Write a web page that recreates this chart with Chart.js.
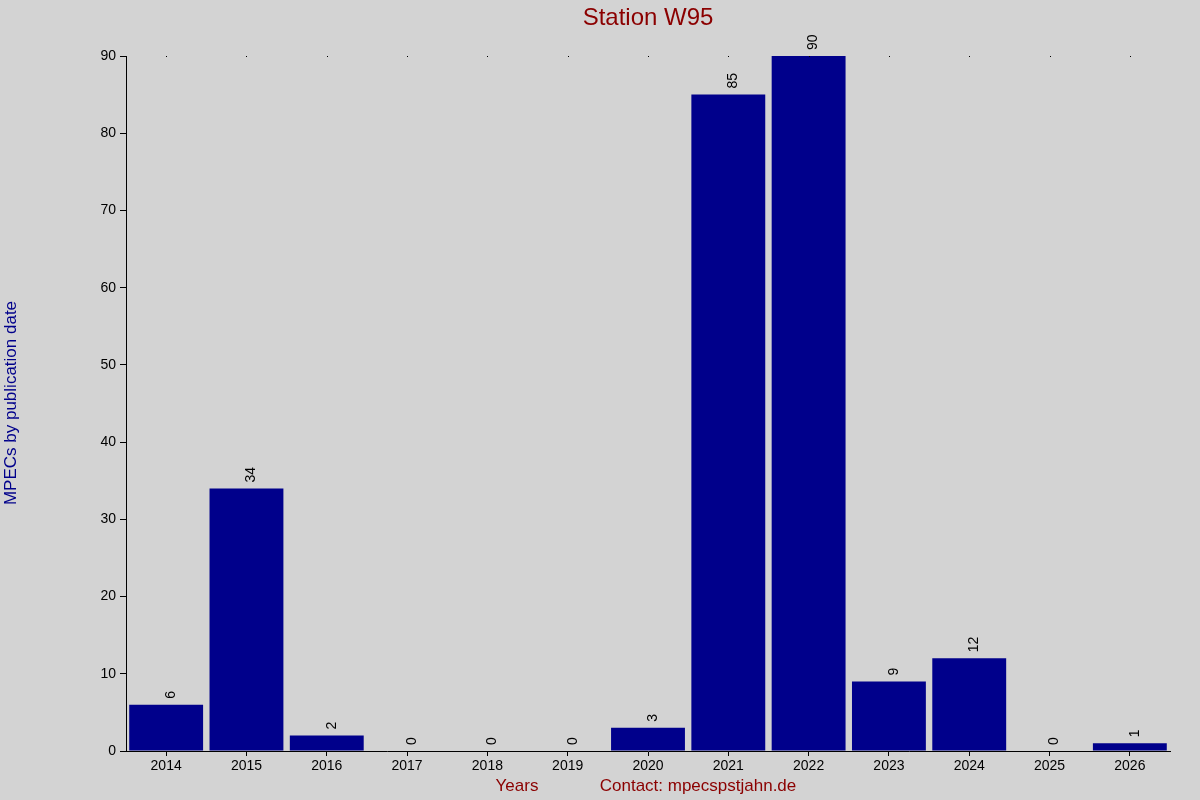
<!DOCTYPE html>
<html><head><script src="https://cdn.jsdelivr.net/npm/chart.js@4"></script>
<style>html,body{margin:0;background:#d3d3d3}</style></head>
<body><div style="width:1200px;height:800px"><canvas id="c"></canvas></div>
<script>
const years=["2014","2015","2016","2017","2018","2019","2020","2021","2022","2023","2024","2025","2026"];
const counts=[6,34,2,0,0,0,3,85,90,9,12,0,1];
const yTicks=[0,10,20,30,40,50,60,70,80,90];
const F='Liberation Sans, Arial, sans-serif';
const deco={id:'deco',afterDatasetsDraw(ch){
 const c=ch.ctx,a=ch.chartArea,x=ch.scales.x,y=ch.scales.y;
 c.save();
 c.fillStyle='#000';c.font='14px '+F;
 const m=ch.getDatasetMeta(0);
 m.data.forEach((b,i)=>{c.save();c.translate(b.x+5,b.y-6);c.rotate(-Math.PI/2);c.textAlign='left';c.textBaseline='middle';c.fillText(String(counts[i]),0,0);c.restore();
  c.fillRect(Math.round(b.x),a.top,1,1);});
 c.fillStyle='#8b0000';c.font='24px '+F;c.textAlign='center';c.textBaseline='middle';
 c.fillText('Station W95',648,18);
 c.font='17px '+F;c.fillText('Years',517,786);c.fillText('Contact: mpecspstjahn.de',698,786);
 c.fillStyle='#00008b';c.save();c.translate(11,403);c.rotate(-Math.PI/2);c.fillText('MPECs by publication date',0,0);c.restore();
 c.restore();}};
new Chart(document.getElementById('c'),{type:'bar',
 data:{labels:years,datasets:[{data:counts,backgroundColor:'#00008b',barPercentage:0.92,categoryPercentage:1}]},
 options:{responsive:true,maintainAspectRatio:false,animation:false,
  layout:{padding:{left:80,right:30,top:56,bottom:0}},
  plugins:{legend:{display:false},tooltip:{enabled:false}},
  scales:{
   x:{afterFit:s=>{s.height=49},grid:{display:true,drawOnChartArea:false,tickLength:5,color:'#000',offset:false},border:{color:'#000'},ticks:{color:'#000',font:{size:14,family:F},padding:2}},
   y:{min:0,max:90,afterFit:s=>{s.width=46},afterBuildTicks:s=>{s.ticks=yTicks.map(v=>({value:v}))},grid:{drawOnChartArea:false,tickLength:6,color:'#000'},border:{color:'#000'},ticks:{color:'#000',font:{size:14,family:F},padding:4}}
  }},plugins:[deco]});
</script></body></html>
